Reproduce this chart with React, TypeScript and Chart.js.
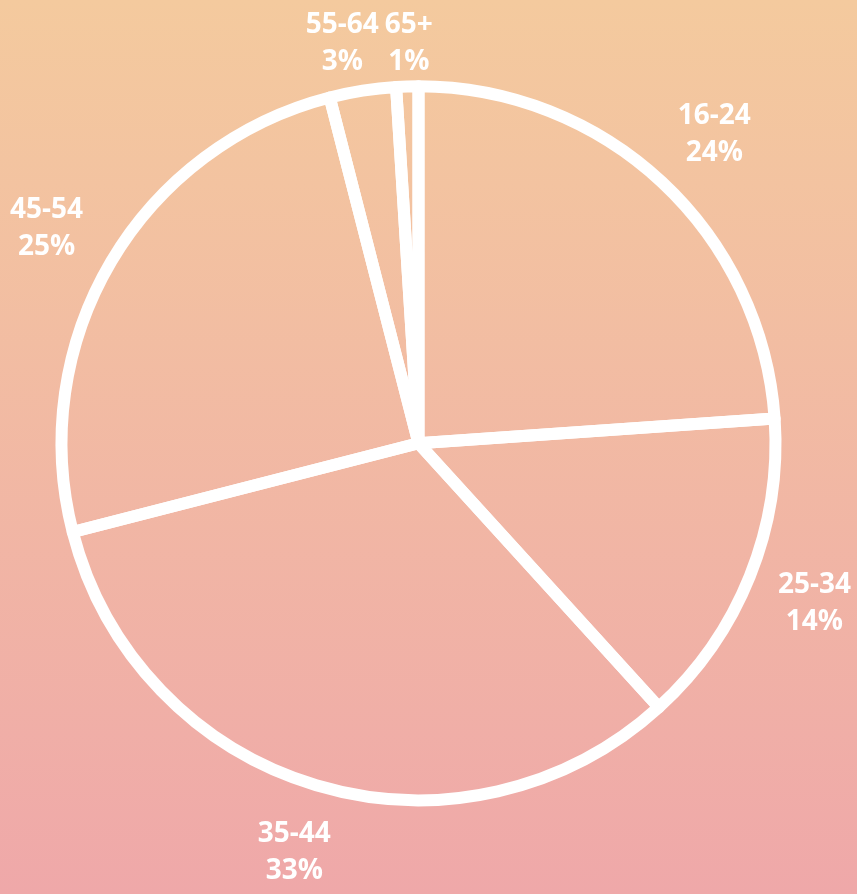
import { useEffect, useRef } from "react";
import { Chart, registerables } from "chart.js";

Chart.register(...registerables);

const categories = ["16-24", "25-34", "35-44", "45-54", "55-64", "65+"];
const shares = [23.9, 14.35, 32.75, 25.0, 3.0, 1.0];

const W = 857;
const H = 894;
const BORDER = 12;
const FONT = "bold 28px 'Open Sans'";
const LINE = 37;
const CAP = 20;
const GAP = 34;

const bgPlugin = {
  id: "bgGradient",
  beforeDraw(chart: any) {
    const { ctx, width, height } = chart;
    const g = ctx.createLinearGradient(0, 0, 0, height);
    g.addColorStop(0, "rgb(244,202,158)");
    g.addColorStop(1, "rgb(239,168,169)");
    ctx.save();
    ctx.fillStyle = g;
    ctx.fillRect(0, 0, width, height);
    ctx.restore();
  },
};

const labelPlugin = {
  id: "outsideLabels",
  afterDraw(chart: any) {
    const ctx = chart.ctx;
    const meta = chart.getDatasetMeta(0);
    const total = shares.reduce((a, b) => a + b, 0);
    ctx.save();
    ctx.font = FONT;
    ctx.fillStyle = "#ffffff";
    ctx.textAlign = "center";
    ctx.textBaseline = "alphabetic";
    const boxes = meta.data.map((arc: any, i: number) => {
      const p = arc.getProps(["x", "y", "startAngle", "endAngle", "outerRadius"], true);
      const a = (p.startAngle + p.endAngle) / 2;
      const c = Math.cos(a);
      const s = Math.sin(a);
      const l1 = categories[i];
      const l2 = Math.round((shares[i] / total) * 100) + "%";
      const w = Math.max(ctx.measureText(l1).width, ctx.measureText(l2).width);
      const h = LINE + CAP;
      const rr = p.outerRadius + BORDER / 2 + GAP;
      return { cx: p.x + c * rr + (c * w) / 2, cy: p.y + s * rr + (s * h) / 2, w, h, l1, l2 };
    });
    const clamp = () => {
      boxes.forEach((b: any) => {
        b.cx = Math.min(Math.max(b.cx, 10 + b.w / 2), W - 6 - b.w / 2);
        b.cy = Math.min(Math.max(b.cy, 13 + b.h / 2), H - 13 - b.h / 2);
      });
    };
    clamp();
    for (let it = 0; it < 10; it++) {
      for (let i = 0; i < boxes.length; i++) {
        for (let j = i + 1; j < boxes.length; j++) {
          const A = boxes[i];
          const B = boxes[j];
          const needX = (A.w + B.w) / 2 + 6;
          const dx = B.cx - A.cx;
          if (Math.abs(dx) < needX && Math.abs(B.cy - A.cy) < (A.h + B.h) / 2) {
            const push = (needX - Math.abs(dx)) / 2;
            const sign = dx >= 0 ? 1 : -1;
            A.cx -= sign * push * 1.4;
            B.cx += sign * push * 0.6;
          }
        }
      }
    }
    clamp();
    boxes.forEach((b: any) => {
      const y1 = b.cy - b.h / 2 + CAP;
      ctx.fillText(b.l1, b.cx, y1);
      ctx.fillText(b.l2, b.cx, y1 + LINE);
    });
    ctx.restore();
  },
};

export default function App() {
  const ref = useRef<HTMLCanvasElement | null>(null);
  useEffect(() => {
    document.body.style.margin = "0";
    const canvas = ref.current;
    if (!canvas) return;
    const chart = new Chart(canvas, {
      type: "pie",
      data: {
        labels: categories,
        datasets: [
          {
            data: shares,
            backgroundColor: "rgba(0,0,0,0)",
            borderColor: "#ffffff",
            borderWidth: BORDER,
            borderJoinStyle: "round",
          } as any,
        ],
      },
      options: {
        responsive: false,
        animation: false,
        radius: 357,
        layout: { padding: { left: 0, right: 20, top: 0, bottom: 7.5 } },
        plugins: {
          legend: { display: false },
          tooltip: { enabled: false },
        },
      } as any,
      plugins: [bgPlugin, labelPlugin],
    });
    return () => chart.destroy();
  }, []);
  return <canvas ref={ref} width={W} height={H} style={{ display: "block" }} />;
}
